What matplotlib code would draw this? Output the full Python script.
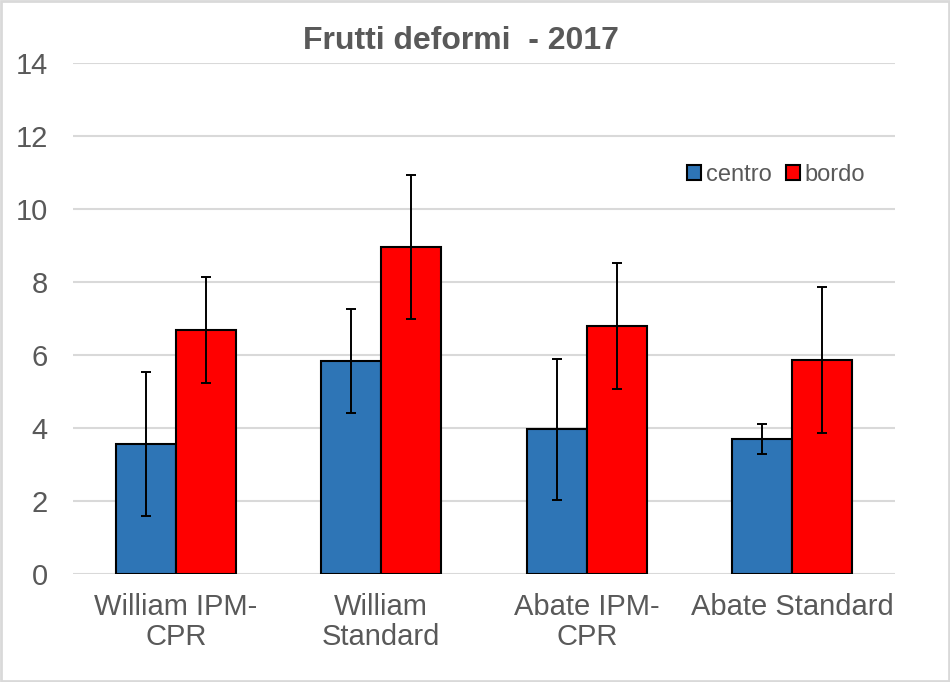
import numpy as np
import matplotlib.pyplot as plt
from matplotlib.patches import Rectangle

plt.rcParams['font.family'] = ['Liberation Sans', 'DejaVu Sans']

# Data
categories = ['William IPM-\nCPR', 'William\nStandard', 'Abate IPM-\nCPR', 'Abate Standard']
centro = [3.56, 5.84, 3.97, 3.70]
centro_err = [1.97, 1.43, 1.93, 0.41]
bordo = [6.68, 8.96, 6.79, 5.86]
bordo_err = [1.45, 1.96, 1.73, 1.99]

fig = plt.figure(figsize=(9.5, 6.82), dpi=100)
ax = fig.add_axes([73/950, 1 - 574/682, (895 - 73)/950, (574 - 63)/682])

x = np.arange(len(categories))
w = 0.292
err_kw = dict(ecolor='black', elinewidth=1.4, capsize=3.5, capthick=1.4)
ax.bar(x - w/2, centro, w, yerr=centro_err, color='#2e75b6', edgecolor='black',
       linewidth=1.5, label='centro', error_kw=err_kw, zorder=3)
ax.bar(x + w/2, bordo, w, yerr=bordo_err, color='#ff0000', edgecolor='black',
       linewidth=1.5, label='bordo', error_kw=err_kw, zorder=3)

ax.set_xlim(-0.5, len(categories) - 0.5)
ax.set_ylim(0, 14)
ax.set_yticks(np.arange(0, 15, 2))
ax.set_xticks(x)
ax.set_xticklabels(categories, fontsize=21, color='#595959', linespacing=1.05)
ax.tick_params(axis='y', labelsize=21, labelcolor='#595959', length=0, pad=18)
ax.tick_params(axis='x', length=0, pad=14)
ax.grid(axis='y', color='#d9d9d9', linewidth=1.5, zorder=0)
for s in ax.spines.values():
    s.set_visible(False)

fig.text(461/950, 1 - 41/682, 'Frutti deformi  - 2017', ha='center', va='center',
         fontsize=23, fontweight='bold', color='#595959')

leg = ax.legend(loc='center', bbox_to_anchor=(776/950, 1 - 175/682),
                bbox_transform=fig.transFigure, ncol=2, frameon=False,
                fontsize=17, handlelength=0.6, handleheight=0.6,
                handletextpad=0.2, columnspacing=0.6)
for t in leg.get_texts():
    t.set_color('#595959')

fig.patches.append(Rectangle((0.001, 0.001), 0.998, 0.997, transform=fig.transFigure,
                             fill=False, edgecolor='#d9d9d9', linewidth=2))

fig.savefig('out.png', dpi=100)
